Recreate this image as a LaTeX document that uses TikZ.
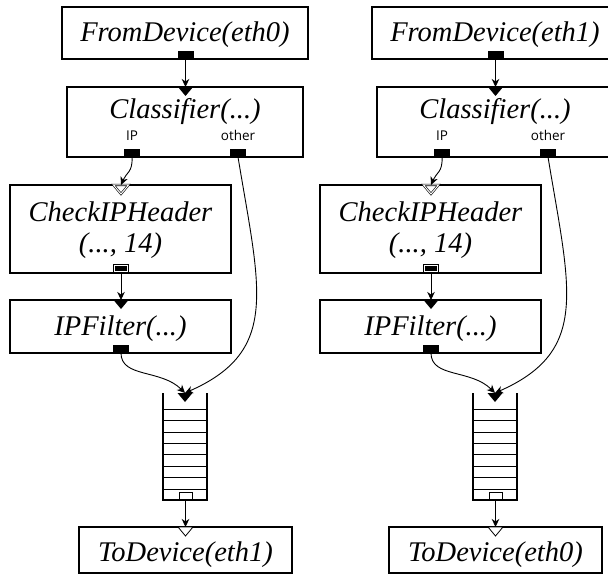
\documentclass[tikz,border=0pt]{standalone}
\usepackage{fontspec}
\newfontfamily\lblfont{Open Sans}
\newfontfamily\elemfont{Liberation Serif}
\usetikzlibrary{arrows.meta}
\tikzset{
  elem/.style={draw, line width=1.4pt, inner sep=0pt},
  ename/.style={font=\elemfont\fontsize{28.5}{32}\selectfont\itshape, inner sep=0pt, anchor=base},
  plabel/.style={font=\lblfont\fontsize{13.5}{15}\selectfont, inner sep=0pt, anchor=base},
  pushout/.style={draw=black, fill=black, line width=0.6pt, minimum width=15pt, minimum height=7pt, inner sep=0pt, anchor=south},
  pullout/.style={draw=black, fill=white, line width=0.9pt, minimum width=13pt, minimum height=7pt, inner sep=0pt, anchor=south},
  agout/.style={draw=black, fill=black, line width=0.7pt, double=white, double distance=1.1pt, minimum width=13pt, minimum height=6pt, inner sep=0pt, anchor=south},
  pushin/.style={fill=black},
  pullin/.style={draw=black, fill=white, line width=0.8pt},
  agin/.style={draw=black, fill=white, line width=0.6pt, double=white, double distance=1pt},
  conn/.style={line width=0.9pt, -{Stealth[length=8pt,width=7.5pt,inset=2.5pt]}},
  qwall/.style={line width=1.6pt},
  qslot/.style={line width=0.8pt},
}
% downward-pointing input port triangle, apex below the given point
\newcommand\inport[2]{\path[#2] (#1) ++(-7.5,0) -- ++(15,0) -- ++(-7.5,9) -- cycle;}
\begin{document}
\begin{tikzpicture}[x=1pt,y=-1pt]
\useasboundingbox (0,0) rectangle (608,580);
\clip (0,0) rectangle (608,580);
\foreach \c/\dx/\src/\dst in {0/0/eth0/eth1,1/310/eth1/eth0}{
\begin{scope}[xshift=\dx]
  % elements
  \node[elem, minimum width=246pt, minimum height=52pt] (fd\c) at (185,33) {};
  \node[ename] at (185,42) {FromDevice(\src)};
  \node[elem, minimum width=236pt, minimum height=70pt] (cl\c) at (185,122) {};
  \node[ename] at (185,119) {Classifier(...)};
  \node[plabel] at (132,141) {IP};
  \node[plabel] at (238,141) {other};
  \node[elem, minimum width=221pt, minimum height=88pt] (ch\c) at (120.5,229) {};
  \node[ename] at (120.5,222) {CheckIPHeader};
  \node[ename] at (120.5,253) {(..., 14)};
  \node[elem, minimum width=221pt, minimum height=53pt] (if\c) at (120.5,326.5) {};
  \node[ename] at (120.5,335) {IPFilter(...)};
  \node[elem, minimum width=213pt, minimum height=46pt] (td\c) at (185.5,550) {};
  \node[ename] at (185.5,561) {ToDevice(\dst)};
  % queue
  \draw[qwall] (163,393) -- (163,500) -- (207,500) -- (207,393);
  \foreach \k in {0,...,7}{\draw[qslot] (163,409+\k*11.45) -- (207,409+\k*11.45);}
  % ports
  \node[pushout] (fdo\c) at (185.5,59) {};
  \coordinate (cli\c) at (185.5,87);
  \inport{cli\c}{pushin}
  \node[pushout] (cip\c) at (132,157) {};
  \node[pushout] (cot\c) at (238,157) {};
  \coordinate (chi\c) at (121,185);
  \inport{chi\c}{agin}
  \node[agout] (cho\c) at (121,272) {};
  \coordinate (ifi\c) at (121,300);
  \inport{ifi\c}{pushin}
  \node[pushout] (ifo\c) at (121,353) {};
  \coordinate (qi\c) at (185,393);
  \inport{qi\c}{pushin}
  \node[pullout] (qo\c) at (185.5,500) {};
  \coordinate (tdi\c) at (185.5,527);
  \inport{tdi\c}{pullin}
  % connections
  \draw[conn] (fdo\c.south) -- (cli\c);
  \draw[conn] (cip\c.south) .. controls +(1,15) and +(5,-12) .. (chi\c);
  \draw[conn] (cho\c.south) -- (ifi\c);
  \draw[conn] (cot\c.south) .. controls +(22,133) and +(95,-42) .. (qi\c);
  \draw[conn] (ifo\c.south) .. controls +(0,25) and +(-24,-24) .. (qi\c);
  \draw[conn] (qo\c.south) -- (tdi\c);
\end{scope}
}
\end{tikzpicture}
\end{document}
